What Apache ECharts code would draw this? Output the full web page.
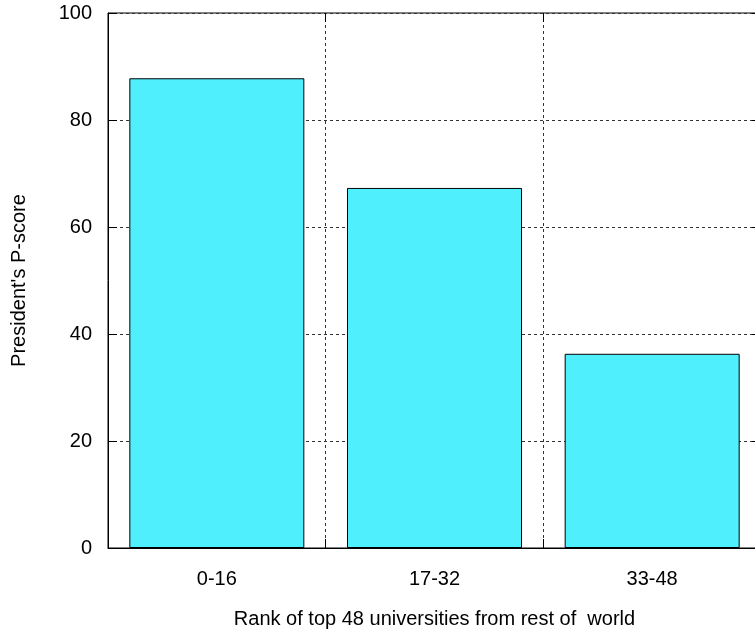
<!DOCTYPE html>
<html>
<head>
<meta charset="utf-8">
<script src="https://cdn.jsdelivr.net/npm/echarts@6/dist/echarts.min.js"></script>
<style>html,body{margin:0;padding:0;background:#fff;overflow:hidden;width:755px;height:636px}#c{width:762px;height:636px}</style>
</head>
<body>
<div id="c"></div>
<script>
const categories = ['0-16', '17-32', '33-48'];
const pScores = [87.8, 67.3, 36.3];
const yTicks = { min: 0, max: 100, interval: 20 };
const xTitle = 'Rank of top 48 universities from rest of  world';
const yTitle = "President's P-score";

const font = '"Liberation Sans", Arial, Helvetica, sans-serif';
const dashed = { show: true, lineStyle: { color: '#333', type: [3, 3], width: 1 } };
const tick = { show: true, inside: true, length: 9, lineStyle: { color: '#000', width: 1 } };
const chart = echarts.init(document.getElementById('c'), null, { renderer: 'canvas' });
chart.setOption({
  animation: false,
  backgroundColor: '#fff',
  grid: { left: 108, top: 13, right: 1, bottom: 88, show: true, borderColor: '#000', borderWidth: 1, backgroundColor: 'transparent' },
  xAxis: [{
    type: 'category', data: categories, position: 'bottom',
    name: xTitle, nameLocation: 'middle', nameGap: 61,
    nameTextStyle: { fontFamily: font, fontSize: 20, color: '#000' },
    axisLine: { show: true, onZero: false, lineStyle: { color: '#000', width: 1 } },
    axisTick: tick,
    axisLabel: { fontFamily: font, fontSize: 20, color: '#000', margin: 21 },
    splitLine: dashed
  }, {
    type: 'category', data: categories, position: 'top',
    axisLine: { show: false, onZero: false },
    axisTick: tick,
    axisLabel: { show: false }, splitLine: { show: false }
  }],
  yAxis: [{
    type: 'value', min: yTicks.min, max: yTicks.max, interval: yTicks.interval, position: 'left',
    name: yTitle, nameLocation: 'middle', nameGap: 79, nameRotate: 90,
    nameTextStyle: { fontFamily: font, fontSize: 20, color: '#000' },
    axisLine: { show: true, onZero: false, lineStyle: { color: '#000', width: 1 } },
    axisTick: tick,
    axisLabel: { fontFamily: font, fontSize: 20, color: '#000', margin: 16 },
    splitLine: dashed
  }, {
    type: 'value', min: yTicks.min, max: yTicks.max, interval: yTicks.interval, position: 'right',
    axisLine: { show: false, onZero: false },
    axisTick: tick,
    axisLabel: { show: false }, splitLine: { show: false }
  }],
  series: [{
    type: 'bar', data: pScores, xAxisIndex: 0, yAxisIndex: 0,
    barWidth: '80.4%',
    itemStyle: { color: '#4FEFFD', borderColor: '#000', borderWidth: 1 },
    z: 3
  }]
});
</script>
</body>
</html>
